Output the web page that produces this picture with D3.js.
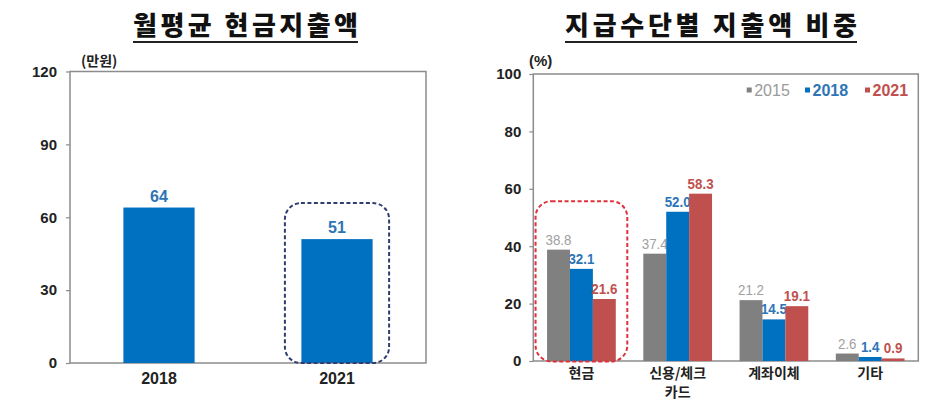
<!DOCTYPE html>
<html><head><meta charset="utf-8">
<script src="https://cdn.jsdelivr.net/npm/d3@7"></script>
<style>
html,body{margin:0;padding:0;background:#fff;}
svg{display:block;}
</style></head>
<body>
<script>
// ---- data ----
const leftTitle = "월평균 현금지출액";
const leftUnit = "(만원)";
const leftCategories = ["2018", "2021"];
const leftValues = [64, 51];
const leftTicks = [0, 30, 60, 90, 120];

const rightTitle = "지급수단별 지출액 비중";
const rightUnit = "(%)";
const rightCategories = [["현금"], ["신용/체크", "카드"], ["계좌이체"], ["기타"]];
const rightSeries = ["2015", "2018", "2021"];
const values2015 = [38.8, 37.4, 21.2, 2.6];
const values2018 = [32.1, 52.0, 14.5, 1.4];
const values2021 = [21.6, 58.3, 19.1, 0.9];
const rightTicks = [0, 20, 40, 60, 80, 100];

// ---- styles ----
const NUM = "'Liberation Sans', Arial, sans-serif";
const KR = "'Noto Sans CJK KR', 'Noto Sans', sans-serif";
const BLUE = "#0070c0";
const seriesFill = ["#808080", "#0070c0", "#c0504d"];
const seriesLabel = ["#a0a0a0", "#2e75b6", "#c0504d"];
const seriesWeight = ["normal", "bold", "bold"];

const svg = d3.select("body").append("svg").attr("width", 945).attr("height", 418);

function title(text, cx, len) {
  svg.append("text").attr("x", cx).attr("y", 35)
    .attr("text-anchor", "middle").attr("font-family", KR).attr("font-weight", 900)
    .attr("font-size", 26).attr("fill", "#111")
    .attr("textLength", len).attr("lengthAdjust", "spacing").text(text);
  svg.append("line").attr("x1", cx - len / 2).attr("x2", cx + len / 2)
    .attr("y1", 42).attr("y2", 42).attr("stroke", "#222").attr("stroke-width", 2);
}

// ================= LEFT CHART =================
title(leftTitle, 245.5, 225);
const L = {x0: 70, x1: 426, y0: 363, y1: 71.5};
const yL = d3.scaleLinear().domain([0, 120]).range([L.y0, L.y1]);
const xL = d3.scaleBand().domain(leftCategories).range([L.x0, L.x1]).padding(0);

const gL = svg.append("g");
gL.append("rect").attr("x", L.x0).attr("y", L.y1).attr("width", L.x1 - L.x0).attr("height", L.y0 - L.y1)
  .attr("fill", "none").attr("stroke", "#8c8c8c").attr("stroke-width", 1.5);

const axL = d3.axisLeft(yL).tickValues(leftTicks).tickSize(4).tickPadding(9).tickSizeOuter(0);
const axLg = svg.append("g").attr("transform", `translate(${L.x0},0)`).call(axL);
axLg.select(".domain").remove();
axLg.selectAll("line").attr("stroke", "#8c8c8c").attr("stroke-width", 1.2);
axLg.selectAll("text").attr("font-family", NUM).attr("font-weight", "bold").attr("font-size", 15).attr("fill", "#222");

svg.append("text").attr("x", 81).attr("y", 66).attr("font-family", KR).attr("font-weight", "bold")
  .attr("font-size", 14).attr("fill", "#222").text(leftUnit);

const bwL = xL.bandwidth() * 0.4;
leftCategories.forEach((c, i) => {
  const cx = xL(c) + xL.bandwidth() / 2;
  gL.append("rect").attr("x", cx - bwL / 2).attr("y", yL(leftValues[i]))
    .attr("width", bwL).attr("height", yL(0) - yL(leftValues[i])).attr("fill", BLUE);
  gL.append("text").attr("x", cx).attr("y", yL(leftValues[i]) - 6).attr("text-anchor", "middle")
    .attr("font-family", NUM).attr("font-weight", "bold").attr("font-size", 16).attr("fill", "#2e75b6")
    .text(leftValues[i]);
  gL.append("text").attr("x", cx).attr("y", 384).attr("text-anchor", "middle")
    .attr("font-family", NUM).attr("font-weight", "bold").attr("font-size", 16).attr("fill", "#222")
    .text(c);
});
// dashed highlight around 2021
{
  const c = leftCategories[1];
  const cx = xL(c) + xL.bandwidth() / 2;
  gL.append("rect").attr("x", cx - bwL / 2 - 16.5).attr("y", yL(leftValues[1]) - 36)
    .attr("width", bwL + 33).attr("height", yL(0) - yL(leftValues[1]) + 36)
    .attr("rx", 16).attr("fill", "none").attr("stroke", "#2f3e6e").attr("stroke-width", 2)
    .attr("stroke-dasharray", "4,2.5");
}

// ================= RIGHT CHART =================
title(rightTitle, 711, 292);
const R = {x0: 533.3, x1: 918.3, y0: 361, y1: 74};
const yR = d3.scaleLinear().domain([0, 100]).range([R.y0, R.y1]);
const catKeys = rightCategories.map(d => d.join(" "));
const xR = d3.scaleBand().domain(catKeys).range([R.x0, R.x1]).padding(0);
const groupW = xR.bandwidth() * 0.714;
const xS = d3.scaleBand().domain(rightSeries).range([0, groupW]).padding(0);
const seriesValues = [values2015, values2018, values2021];

const gR = svg.append("g");
gR.append("rect").attr("x", R.x0).attr("y", R.y1).attr("width", R.x1 - R.x0).attr("height", R.y0 - R.y1)
  .attr("fill", "none").attr("stroke", "#8c8c8c").attr("stroke-width", 1.5);

const axR = d3.axisLeft(yR).tickValues(rightTicks).tickSize(4).tickPadding(8).tickSizeOuter(0);
const axRg = svg.append("g").attr("transform", `translate(${R.x0},0)`).call(axR);
axRg.select(".domain").remove();
axRg.selectAll("line").attr("stroke", "#8c8c8c").attr("stroke-width", 1.2);
axRg.selectAll("text").attr("font-family", NUM).attr("font-weight", "bold").attr("font-size", 15).attr("fill", "#222");

svg.append("text").attr("x", 529).attr("y", 66).attr("font-family", NUM).attr("font-weight", "bold")
  .attr("font-size", 15).attr("fill", "#222").text(rightUnit);

catKeys.forEach((k, i) => {
  const gx = xR(k) + (xR.bandwidth() - groupW) / 2;
  rightSeries.forEach((s, j) => {
    const v = seriesValues[j][i];
    gR.append("rect").attr("x", gx + xS(s)).attr("y", yR(v)).attr("width", xS.bandwidth())
      .attr("height", yR(0) - yR(v)).attr("fill", seriesFill[j]);
    const t = gR.append("text").attr("x", gx + xS(s) + xS.bandwidth() / 2).attr("y", yR(v) - 5)
      .attr("text-anchor", "middle").attr("font-family", NUM).attr("font-weight", seriesWeight[j])
      .attr("font-size", 15.5).attr("fill", seriesLabel[j]).text(v.toFixed(1));
    const w = t.node().getComputedTextLength();
    t.attr("textLength", w * 0.86).attr("lengthAdjust", "spacingAndGlyphs");
  });
  const cx = xR(k) + xR.bandwidth() / 2;
  rightCategories[i].forEach((line, li) => {
    gR.append("text").attr("x", cx).attr("y", 378 + li * 19).attr("text-anchor", "middle")
      .attr("font-family", KR).attr("font-weight", "bold").attr("font-size", 14).attr("fill", "#222")
      .text(line);
  });
});

// dashed highlight around 현금
{
  const gx = xR(catKeys[0]) + (xR.bandwidth() - groupW) / 2;
  gR.append("rect").attr("x", gx - 11.5).attr("y", yR(values2015[0]) - 48.5)
    .attr("width", groupW + 23).attr("height", yR(0) - yR(values2015[0]) + 49)
    .attr("rx", 16).attr("fill", "none").attr("stroke", "#e0303a").attr("stroke-width", 2)
    .attr("stroke-dasharray", "4,2.5");
}

// legend
const legendX = [746.7, 805, 865];
rightSeries.forEach((s, j) => {
  svg.append("rect").attr("x", legendX[j]).attr("y", 87.5).attr("width", 5).attr("height", 5)
    .attr("fill", seriesFill[j]);
  svg.append("text").attr("x", legendX[j] + 7.5).attr("y", 96).attr("font-family", NUM)
    .attr("font-weight", seriesWeight[j]).attr("font-size", 16)
    .attr("fill", j === 0 ? "#9a9a9a" : seriesLabel[j]).text(s);
});
</script>
</body></html>
